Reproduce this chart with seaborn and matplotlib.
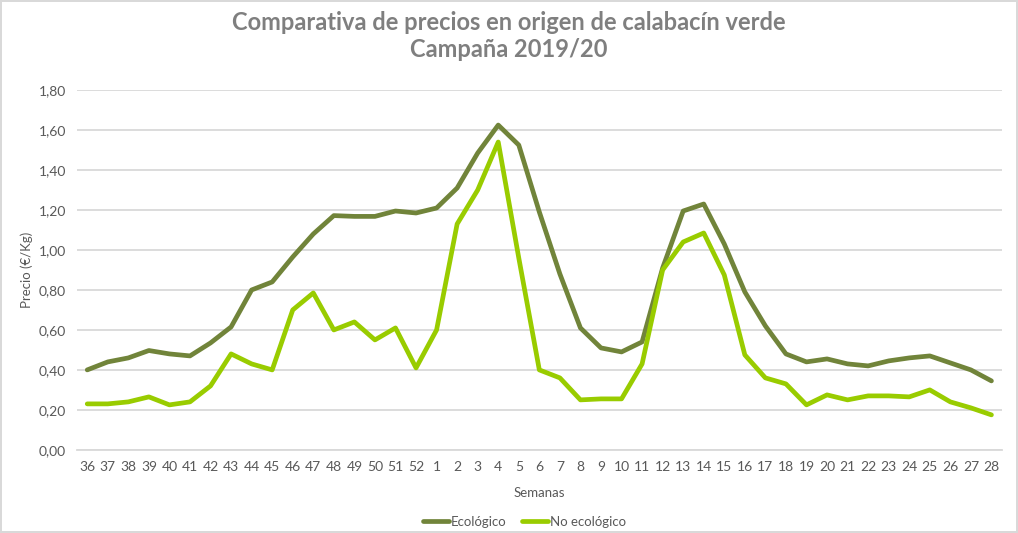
import numpy as np
import pandas as pd
import matplotlib
matplotlib.use("Agg")
import matplotlib.pyplot as plt
import seaborn as sns

weeks = ["36", "37", "38", "39", "40", "41", "42", "43", "44", "45", "46", "47", "48", "49", "50", "51", "52",
         "1", "2", "3", "4", "5", "6", "7", "8", "9", "10", "11", "12", "13", "14", "15", "16", "17", "18",
         "19", "20", "21", "22", "23", "24", "25", "26", "27", "28"]
ecologico = [0.40, 0.44, 0.46, 0.497, 0.48, 0.47, 0.535, 0.615, 0.80, 0.84, 0.965, 1.08, 1.172, 1.168, 1.168, 1.195, 1.185,
             1.21, 1.31, 1.485, 1.625, 1.525, 1.19, 0.88, 0.61, 0.51, 0.49, 0.54, 0.91, 1.195, 1.23,
             1.03, 0.79, 0.62, 0.48, 0.44, 0.455, 0.43, 0.42, 0.445, 0.46, 0.47, 0.435, 0.40, 0.345]
no_ecologico = [0.23, 0.23, 0.24, 0.265, 0.225, 0.24, 0.32, 0.48, 0.43, 0.40, 0.70, 0.785, 0.60, 0.64, 0.55, 0.61, 0.41,
                0.60, 1.13, 1.30, 1.54, 0.96, 0.40, 0.36, 0.25, 0.255, 0.255, 0.43, 0.90, 1.04, 1.085,
                0.875, 0.475, 0.36, 0.33, 0.225, 0.275, 0.25, 0.27, 0.27, 0.265, 0.30, 0.24, 0.21, 0.175]
series = ["Ecológico", "No ecológico"]
colors = ["#71843a", "#99cc00"]

df = pd.DataFrame({"pos": np.arange(len(weeks)), "Ecológico": ecologico, "No ecológico": no_ecologico})
dl = df.melt(id_vars="pos", var_name="serie", value_name="precio")

sns.set_style("white")
plt.rcParams["font.family"] = ["Lato", "DejaVu Sans"]

fig = plt.figure(figsize=(10.18, 5.33), dpi=100)
fig.patch.set_edgecolor("#d9d9d9")
fig.patch.set_linewidth(1.5)
ax = fig.add_axes([0.0756, 0.156, 0.9084, 0.675])

sns.lineplot(data=dl, x="pos", y="precio", hue="serie", hue_order=series,
             palette=colors, linewidth=3.4, ax=ax, legend=False)

ax.set_xlim(-0.5, len(weeks) - 0.5)
ax.set_ylim(0, 1.8)
ax.set_yticks(np.arange(0, 1.81, 0.2))
ax.set_yticklabels([f"{v:.2f}".replace(".", ",") for v in np.arange(0, 1.81, 0.2)],
                   fontsize=10, color="#595959")
ax.set_xticks(np.arange(len(weeks)))
ax.set_xticklabels(weeks, fontsize=10, color="#595959")
ax.tick_params(axis="both", length=0, pad=8)
ax.grid(axis="y", color="#d9d9d9", linewidth=1.3)
ax.set_axisbelow(True)
for s in ["top", "right", "left"]:
    ax.spines[s].set_visible(False)
ax.spines["bottom"].set_color("#d9d9d9")
ax.spines["bottom"].set_linewidth(1.3)

ax.set_xlabel("Semanas", fontsize=9.5, color="#595959", labelpad=10)
ax.set_ylabel("Precio (€/Kg)", fontsize=9.5, color="#595959", labelpad=4)

fig.suptitle("Comparativa de precios en origen de calabacín verde\nCampaña 2019/20",
             fontsize=17, fontweight="bold", color="#7f7f7f", y=0.98, linespacing=1.25)

handles = [plt.Line2D([0], [0], color=c, lw=3.4) for c in colors]
fig.legend(handles, series, loc="lower center", ncol=2, frameon=False, fontsize=9.5,
           bbox_to_anchor=(0.515, -0.012), handlelength=2.0, handletextpad=0.1, columnspacing=1.2,
           labelcolor="#595959")

fig.savefig("out.png", dpi=100, edgecolor=fig.get_edgecolor())
